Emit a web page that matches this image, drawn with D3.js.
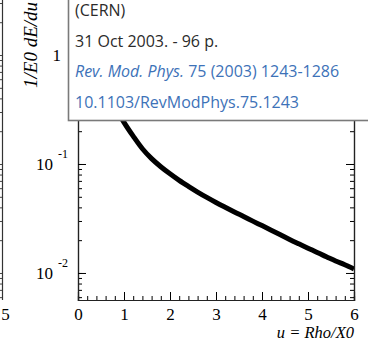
<!DOCTYPE html>
<html>
<head>
<meta charset="utf-8">
<script src="https://cdn.jsdelivr.net/npm/d3@7"></script>
<style>
  body { margin: 0; background: #fff; }
  svg { display: block; }
</style>
</head>
<body>
<svg id="chart" width="368" height="342"></svg>
<script>
// values (u = Rho/X0, 1/E0 dE/du)
var uValues = [0.6, 0.8, 1.0, 1.2, 1.4, 1.6, 1.8, 2.0, 2.2, 2.4, 2.6, 2.8, 3.0, 3.2, 3.4,
  3.6, 3.8, 4.0, 4.2, 4.4, 4.6, 4.8, 5.0, 5.2, 5.4, 5.6, 5.8, 6.0];
var dEdu = [0.50, 0.339, 0.241, 0.180, 0.138, 0.112, 0.0944, 0.0813, 0.0708, 0.0624, 0.0553,
  0.0494, 0.0444, 0.0401, 0.0363, 0.0330, 0.0299, 0.0272, 0.0247, 0.0224, 0.0203, 0.0185,
  0.0169, 0.0154, 0.0141, 0.0129, 0.0119, 0.0109];

var xTickLabels = [0, 1, 2, 3, 4, 5, 6];
var yMajor = [1, 0.1, 0.01];
var yLabelBase = ['1', '10', '10'];
var yLabelExp = ['', '-1', '-2'];

var infoLines = ['(CERN)', '31 Oct 2003. - 96 p.'];
var journal = ['Rev. Mod. Phys.', ' 75 (2003) 1243-1286'];
var doi = '10.1103/RevModPhys.75.1243';

var svg = d3.select('#chart');
var serif = 'Liberation Serif';

var x = d3.scaleLinear().domain([0, 6]).range([78, 354]);
var y = d3.scaleLog().domain([0.00565, 3.95]).range([300, -10]);

// bit of the neighbouring panel on the left
var leftPanel = svg.append('g').attr('transform', 'translate(2.5,0)');
leftPanel.call(d3.axisLeft(y).tickSize(3).tickFormat(''))
  .call(function(g) { g.select('.domain').remove(); });
leftPanel.selectAll('.tick line').attr('stroke', '#444');
leftPanel.append('line').attr('y1', -10).attr('y2', 300).attr('stroke', '#333').attr('stroke-width', 1.2);
svg.append('text').attr('x', 5.5).attr('y', 320).attr('text-anchor', 'middle')
  .style('font-family', serif).style('font-size', '17px').text('5');

// curve
svg.append('clipPath').attr('id', 'plotClip').append('rect')
  .attr('x', 78).attr('y', -10).attr('width', 276).attr('height', 310);

var line = d3.line()
  .x(function(d, i) { return x(uValues[i]); })
  .y(function(d) { return y(d); })
  .curve(d3.curveCatmullRom);

svg.append('path')
  .datum(dEdu)
  .attr('clip-path', 'url(#plotClip)')
  .attr('d', line)
  .attr('fill', 'none')
  .attr('stroke', '#000')
  .attr('stroke-width', 5);

// axes, ticks pointing inward
var minorX = d3.range(0, 31).map(function(i) { return i / 5; });
svg.append('g').attr('transform', 'translate(0,300)')
  .call(d3.axisBottom(x).tickValues(minorX).tickSize(-4).tickFormat(''));
var xAxis = svg.append('g').attr('transform', 'translate(0,300)')
  .call(d3.axisBottom(x).tickValues(xTickLabels).tickSize(-8).tickPadding(7.5).tickFormat(d3.format('d')));
xAxis.selectAll('text').style('font-family', serif).style('font-size', '17px').attr('fill', '#000');

var yTicks = y.ticks();
svg.append('g').attr('transform', 'translate(78,0)')
  .call(d3.axisRight(y).tickValues(yTicks).tickSize(4).tickFormat(''));
svg.append('g').attr('transform', 'translate(78,0)')
  .call(d3.axisRight(y).tickValues(yMajor).tickSize(8).tickFormat(''));
svg.append('g').attr('transform', 'translate(354,0)')
  .call(d3.axisLeft(y).tickValues(yTicks).tickSize(4).tickFormat(''));
svg.append('g').attr('transform', 'translate(354,0)')
  .call(d3.axisLeft(y).tickValues(yMajor).tickSize(8).tickFormat(''));
svg.selectAll('.domain').attr('stroke', '#222').attr('stroke-width', 1.2);

yMajor.forEach(function(v, i) {
  svg.append('text')
    .attr('x', yLabelExp[i] ? 53 : 61)
    .attr('y', y(v) + 6)
    .attr('text-anchor', 'end')
    .style('font-family', serif).style('font-size', '17px')
    .text(yLabelBase[i]);
  if (yLabelExp[i]) {
    svg.append('text').attr('x', 58).attr('y', y(v) - 6)
      .style('font-family', serif).style('font-size', '12px')
      .text(yLabelExp[i]);
  }
});

// axis titles
svg.append('text')
  .attr('x', 354).attr('y', 338)
  .attr('text-anchor', 'end')
  .style('font-family', serif).style('font-style', 'italic').style('font-size', '16.5px')
  .text('u = Rho/X0');
svg.append('text')
  .attr('transform', 'translate(37,88) rotate(-90)')
  .style('font-family', serif).style('font-style', 'italic').style('font-size', '19px')
  .text('1/E0 dE/du');

// record pop-up covering the top of the plot
var box = svg.append('g');
box.append('rect')
  .attr('x', 68.5).attr('y', -10).attr('width', 320).attr('height', 130.5)
  .attr('fill', '#fff').attr('stroke', '#7a7a7a').attr('stroke-width', 1.6);

var sans = '"Open Sans", "DejaVu Sans", sans-serif';
infoLines.forEach(function(s, i) {
  box.append('text').attr('x', 75).attr('y', 16 + i * 31)
    .style('font-family', sans).style('font-size', '16px').attr('fill', '#2b2b2b')
    .text(s);
});
var jt = box.append('text').attr('x', 75).attr('y', 77)
  .style('font-family', sans).style('font-size', '16px').attr('fill', '#3d72b8');
jt.append('tspan').style('font-style', 'italic').text(journal[0]);
jt.append('tspan').text(journal[1]);
box.append('text').attr('x', 75).attr('y', 108)
  .style('font-family', sans).style('font-size', '16px').attr('fill', '#3d72b8')
  .text(doi);
</script>
</body>
</html>
